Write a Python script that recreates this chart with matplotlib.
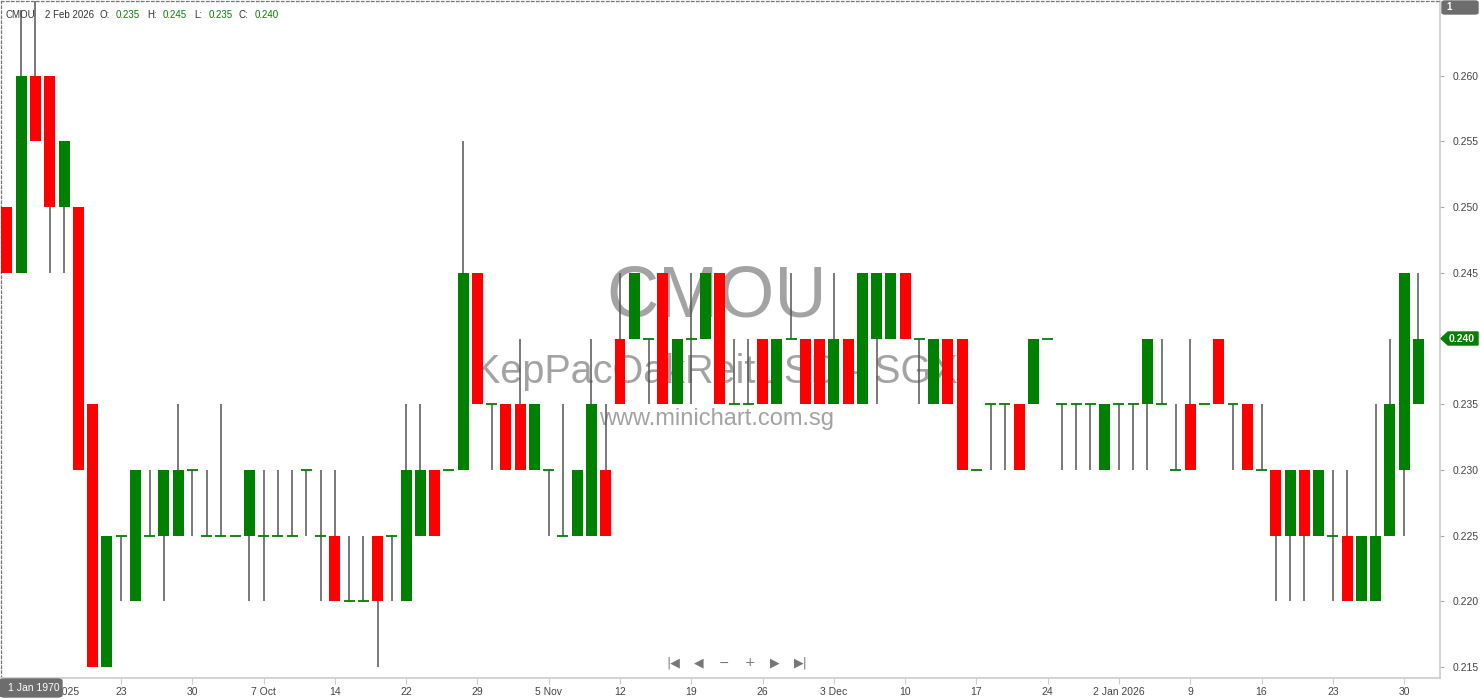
import matplotlib.pyplot as plt
from matplotlib.patches import FancyBboxPatch, Polygon

# daily OHLC for CMOU, 11 Sep 2025 .. 2 Feb 2026
opens = [0.250, 0.245, 0.260, 0.260, 0.250, 0.250, 0.235, 0.215, 0.225, 0.220,
         0.225, 0.225, 0.225, 0.230, 0.225, 0.225, 0.225, 0.225, 0.225, 0.225,
         0.225, 0.230, 0.225, 0.225, 0.220, 0.220, 0.225, 0.225, 0.220, 0.225,
         0.230, 0.230, 0.230, 0.245, 0.235, 0.235, 0.235, 0.230, 0.230, 0.225,
         0.225, 0.225, 0.230, 0.240, 0.240, 0.240, 0.245, 0.235, 0.240, 0.240,
         0.245, 0.235, 0.235, 0.240, 0.235, 0.240, 0.240, 0.240, 0.235, 0.240,
         0.235, 0.240, 0.240, 0.245, 0.240, 0.235, 0.240, 0.240, 0.230, 0.235,
         0.235, 0.235, 0.235, 0.240, 0.235, 0.235, 0.235, 0.230, 0.235, 0.235,
         0.235, 0.235, 0.230, 0.235, 0.235, 0.240, 0.235, 0.235, 0.230, 0.230,
         0.225, 0.230, 0.225, 0.225, 0.225, 0.220, 0.220, 0.225, 0.230, 0.235]
highs = [0.250, 0.265, 0.270, 0.260, 0.255, 0.250, 0.235, 0.225, 0.225, 0.230,
         0.230, 0.230, 0.235, 0.230, 0.230, 0.235, 0.225, 0.230, 0.230, 0.230,
         0.230, 0.230, 0.230, 0.230, 0.225, 0.225, 0.225, 0.225, 0.235, 0.235,
         0.230, 0.230, 0.255, 0.245, 0.235, 0.235, 0.240, 0.235, 0.230, 0.235,
         0.230, 0.240, 0.235, 0.245, 0.245, 0.240, 0.245, 0.240, 0.245, 0.245,
         0.245, 0.240, 0.240, 0.240, 0.240, 0.245, 0.240, 0.240, 0.245, 0.240,
         0.245, 0.245, 0.245, 0.245, 0.240, 0.240, 0.240, 0.240, 0.230, 0.235,
         0.235, 0.235, 0.240, 0.240, 0.235, 0.235, 0.235, 0.235, 0.235, 0.235,
         0.240, 0.240, 0.235, 0.240, 0.235, 0.240, 0.235, 0.235, 0.235, 0.230,
         0.230, 0.230, 0.230, 0.230, 0.230, 0.225, 0.235, 0.240, 0.245, 0.245]
lows = [0.245, 0.245, 0.255, 0.245, 0.245, 0.230, 0.215, 0.215, 0.220, 0.220,
        0.225, 0.220, 0.225, 0.225, 0.225, 0.225, 0.225, 0.220, 0.220, 0.225,
        0.225, 0.225, 0.220, 0.220, 0.220, 0.220, 0.215, 0.220, 0.220, 0.225,
        0.225, 0.230, 0.230, 0.235, 0.230, 0.230, 0.230, 0.230, 0.225, 0.225,
        0.225, 0.225, 0.225, 0.235, 0.240, 0.235, 0.235, 0.235, 0.235, 0.240,
        0.235, 0.235, 0.235, 0.235, 0.235, 0.240, 0.235, 0.235, 0.235, 0.235,
        0.235, 0.235, 0.240, 0.240, 0.235, 0.235, 0.235, 0.230, 0.230, 0.230,
        0.230, 0.230, 0.235, 0.240, 0.230, 0.230, 0.230, 0.230, 0.230, 0.230,
        0.230, 0.235, 0.230, 0.230, 0.235, 0.235, 0.230, 0.230, 0.230, 0.220,
        0.220, 0.220, 0.225, 0.220, 0.220, 0.220, 0.220, 0.225, 0.225, 0.235]
closes = [0.245, 0.260, 0.255, 0.250, 0.255, 0.230, 0.215, 0.225, 0.225, 0.230,
          0.225, 0.230, 0.230, 0.230, 0.225, 0.225, 0.225, 0.230, 0.225, 0.225,
          0.225, 0.230, 0.225, 0.220, 0.220, 0.220, 0.220, 0.225, 0.230, 0.230,
          0.225, 0.230, 0.245, 0.235, 0.235, 0.230, 0.230, 0.235, 0.230, 0.225,
          0.230, 0.235, 0.225, 0.235, 0.245, 0.240, 0.235, 0.240, 0.240, 0.245,
          0.235, 0.235, 0.235, 0.235, 0.240, 0.240, 0.235, 0.235, 0.240, 0.235,
          0.245, 0.245, 0.245, 0.240, 0.240, 0.240, 0.235, 0.230, 0.230, 0.235,
          0.235, 0.230, 0.240, 0.240, 0.235, 0.235, 0.235, 0.235, 0.235, 0.235,
          0.240, 0.235, 0.230, 0.230, 0.235, 0.235, 0.235, 0.230, 0.230, 0.225,
          0.230, 0.225, 0.230, 0.225, 0.220, 0.225, 0.225, 0.235, 0.245, 0.240]

tick_pos = list(range(3, 100, 5))
tick_labels = ['16 Sep 2025', '23', '30', '7 Oct', '14', '22', '29', '5 Nov',
               '12', '19', '26', '3 Dec', '10', '17', '24', '2 Jan 2026',
               '9', '16', '23', '30']
price_ticks = [0.215, 0.220, 0.225, 0.230, 0.235, 0.240, 0.245, 0.250, 0.255, 0.260]
last_price = closes[-1]

W, H = 1480, 699
UP, DOWN, WICK, TXT = '#008000', '#ff0000', '#555555', '#444444'
plt.rcParams['font.family'] = ['Liberation Sans', 'DejaVu Sans']

fig = plt.figure(figsize=(W / 100, H / 100), dpi=100)
ax = fig.add_axes([1 / W, 21.4 / H, 1439 / W, 676.6 / H])


def fx(px):
    return px / W


def fy(py):
    return 1 - py / H


# candles
xs = list(range(len(opens)))
ax.vlines(xs, lows, highs, color=WICK, lw=1.1, zorder=2)
body_w = 0.77
for i in xs:
    o, c = opens[i], closes[i]
    if o == c:
        ax.hlines(o, i - body_w / 2, i + body_w / 2, color=UP, lw=1.3, zorder=3)
    else:
        ax.bar(i, abs(c - o), bottom=min(o, c), width=body_w,
               color=UP if c > o else DOWN, zorder=3)

ax.set_xlim(-0.42, 100.52)
ax.set_ylim(0.21419, 0.26569)

# watermark
wm = '#a3a3a3'
ax.text(0.4976, 0.533, 'CMOU', transform=ax.transAxes, ha='center', va='baseline',
        fontsize=52, color=wm, zorder=1)
ax.text(0.4966, 0.4356, 'KepPacOakReitUSD - SGX', transform=ax.transAxes, ha='center',
        va='baseline', fontsize=28.5, color=wm, zorder=1)
ax.text(0.4970, 0.373, 'www.minichart.com.sg', transform=ax.transAxes, ha='center',
        va='baseline', fontsize=17, color=wm, zorder=1)

# axes styling (the last-price tag sits over the 0.240 label)
ax.yaxis.tick_right()
ax.set_yticks(price_ticks)
ax.set_yticklabels(['' if abs(p - last_price) < 1e-9 else f'{p:.3f}' for p in price_ticks])
ax.set_xticks(tick_pos)
ax.set_xticklabels(tick_labels)
ax.tick_params(axis='y', length=3, color='#aaaaaa', labelsize=7.5, labelcolor=TXT, pad=6)
ax.tick_params(axis='x', length=4, color='#cccccc', labelsize=7.5, labelcolor=TXT, pad=3)
for side in ('top', 'left'):
    ax.spines[side].set_linestyle((0, (2, 2)))
    ax.spines[side].set_color('#777777')
    ax.spines[side].set_linewidth(0.9)
for side in ('right', 'bottom'):
    ax.spines[side].set_color('#cccccc')
    ax.spines[side].set_linewidth(1.2)

# header legend
legend = [(5, 'CMOU', '#333333'), (45, '2 Feb 2026', '#333333'), (99, 'O:', '#333333'),
          (116, '0.235', UP), (147, 'H:', '#333333'), (163, '0.245', UP),
          (194, 'L:', '#333333'), (209, '0.235', UP), (239, 'C:', '#333333'),
          (255, '0.240', UP)]
for px, s, col in legend:
    fig.text(fx(px), fy(15), s, color=col, fontsize=7, va='center', ha='left')

# navigation icons
for px, s in [(673, '|◀'), (699, '◀'), (724, '−'), (750, '+'), (775, '▶'), (801, '▶|')]:
    fig.text(fx(px), fy(663), s, color='#777777', fontsize=9, ha='center', va='center',
             family=['DejaVu Sans'])

# last price tag
tag = Polygon([(fx(1441), fy(338.5)), (fx(1448), fy(332)), (fx(1478), fy(332)),
               (fx(1478), fy(345)), (fx(1448), fy(345))], closed=True,
              transform=fig.transFigure, color=UP, zorder=5)
fig.patches.append(tag)
fig.text(fx(1449), fy(338.5), f'{last_price:.3f}', color='white', fontsize=7.5, weight='bold',
         va='center', ha='left', zorder=6)

# corner boxes
box1 = FancyBboxPatch((fx(1442), fy(14)), fx(36), 13 / H, boxstyle='round,pad=0,rounding_size=0.002',
                      transform=fig.transFigure, color='#6d6d6d', zorder=5)
fig.patches.append(box1)
fig.text(fx(1446), fy(7.5), '1', color='white', fontsize=7, weight='bold', va='center', zorder=6)

box2 = FancyBboxPatch((fx(0), fy(697)), fx(62), 18 / H, boxstyle='round,pad=0,rounding_size=0.003',
                      transform=fig.transFigure, color='#6d6d6d', zorder=5)
fig.patches.append(box2)
fig.text(fx(8), fy(688), '1 Jan 1970', color='white', fontsize=7.5, va='center', zorder=6)

fig.savefig('out.png', dpi=100)
